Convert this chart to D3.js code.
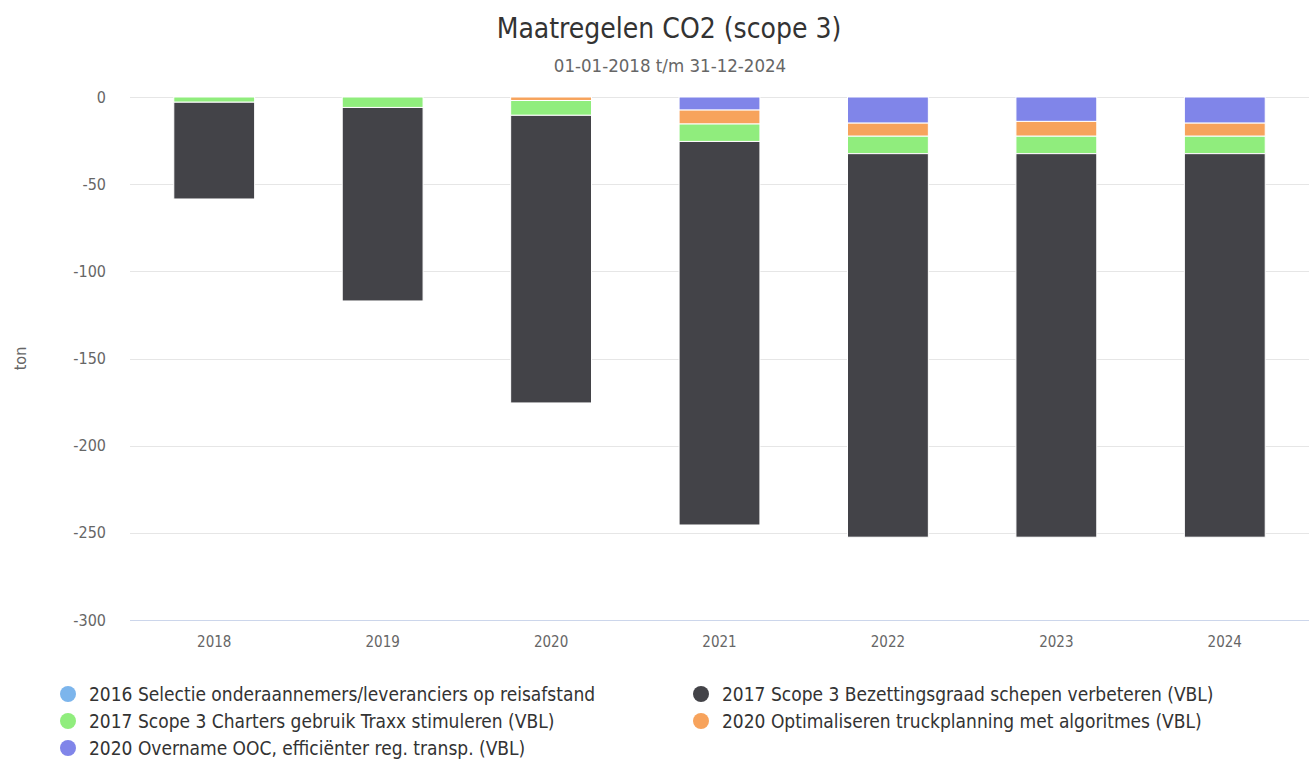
<!DOCTYPE html>
<html>
<head>
<meta charset="utf-8">
<script src="https://d3js.org/d3.v7.min.js"></script>
<style>
  body { margin: 0; background: #fff; }
  svg text { font-family: "DejaVu Sans Condensed", "DejaVu Sans", sans-serif; font-stretch: condensed; }
</style>
</head>
<body>
<div id="chart"></div>
<script>
// data
const years = ["2018", "2019", "2020", "2021", "2022", "2023", "2024"];

const seriesNames = [
    "2016 Selectie onderaannemers/leveranciers op reisafstand",
    "2017 Scope 3 Bezettingsgraad schepen verbeteren (VBL)",
    "2017 Scope 3 Charters gebruik Traxx stimuleren (VBL)",
    "2020 Optimaliseren truckplanning met algoritmes (VBL)",
    "2020 Overname OOC, efficiënter reg. transp. (VBL)"
];
const seriesColors = ["#7cb5ec", "#434348", "#90ed7d", "#f7a35c", "#8085e9"];

const selectie    = [0, 0, 0, 0, 0, 0, 0];
const bezetting   = [-55.5, -111, -165, -220, -220, -220, -220];
const charters    = [-3, -6, -8.5, -10, -10, -10, -10];
const truckplan   = [0, 0, -2, -8, -7.5, -8.5, -7.5];
const overname    = [0, 0, 0, -7.5, -15, -14, -15];

const seriesValues = [selectie, bezetting, charters, truckplan, overname];

const yTicks = [0, -50, -100, -150, -200, -250, -300];

const width = 1309, height = 762;
const margin = {top: 97, right: 0, bottom: 142, left: 130};
const innerW = width - margin.left - margin.right;
const innerH = height - margin.top - margin.bottom;

const svg = d3.select("#chart").append("svg")
    .attr("width", width)
    .attr("height", height);

// title
svg.append("text")
    .attr("x", 669).attr("y", 38)
    .attr("text-anchor", "middle")
    .attr("font-size", "28px")
    .attr("fill", "#333333")
    .text("Maatregelen CO2 (scope 3)");

svg.append("text")
    .attr("x", 670).attr("y", 72)
    .attr("text-anchor", "middle")
    .attr("font-size", "18.5px")
    .attr("fill", "#666666")
    .text("01-01-2018 t/m 31-12-2024");

const g = svg.append("g")
    .attr("transform", "translate(" + margin.left + "," + margin.top + ")");

/// Scales
const x = d3.scaleBand()
    .domain(years)
    .range([0, innerW])
    .paddingInner(0.52)
    .paddingOuter(0.26);

const y = d3.scaleLinear()
    .domain([0, -300])
    .range([0, innerH]);

/// Grid
g.selectAll(".grid")
    .data(yTicks.filter(d => d !== -300))
    .enter()
    .append("line")
    .attr("x1", 0).attr("x2", innerW)
    .attr("y1", d => Math.round(y(d)) + 0.5)
    .attr("y2", d => Math.round(y(d)) + 0.5)
    .attr("stroke", "#e6e6e6")
    .attr("stroke-width", 1);

g.append("line")
    .attr("x1", 0).attr("x2", innerW)
    .attr("y1", Math.round(y(-300)) + 0.5)
    .attr("y2", Math.round(y(-300)) + 0.5)
    .attr("stroke", "#ccd6eb")
    .attr("stroke-width", 1);

/// Y axis labels
const yAxis = g.append("g")
    .attr("transform", "translate(-24,0)")
    .call(d3.axisLeft(y).tickValues(yTicks).tickSize(0).tickPadding(0)
        .tickFormat(d => String(d)));
yAxis.select(".domain").remove();
yAxis.selectAll("text")
    .attr("font-size", "16px")
    .attr("fill", "#666666")
    .attr("font-family", null);

svg.append("text")
    .attr("transform", "translate(26," + (margin.top + innerH / 2) + ") rotate(-90)")
    .attr("text-anchor", "middle")
    .attr("font-size", "16px")
    .attr("fill", "#666666")
    .text("ton");

/// X axis labels
const xAxis = g.append("g")
    .attr("transform", "translate(0," + innerH + ")")
    .call(d3.axisBottom(x).tickSize(0).tickPadding(16));
xAxis.select(".domain").remove();
xAxis.selectAll("text")
    .attr("font-size", "15px")
    .attr("fill", "#666666")
    .attr("font-family", null);

/// Stacks (last series sits nearest zero)
const rows = years.map((yr, i) => {
    const r = {year: yr};
    seriesNames.forEach((s, k) => { r[s] = seriesValues[k][i]; });
    return r;
});

const stackOrder = seriesNames.slice().reverse();
const stacked = d3.stack()
    .keys(stackOrder)
    .offset(d3.stackOffsetDiverging)(rows);

const color = d3.scaleOrdinal().domain(seriesNames).range(seriesColors);

g.selectAll(".serie")
    .data(stacked)
    .enter()
    .append("g")
    .attr("fill", d => color(d.key))
    .selectAll("rect")
    .data(d => d.filter(p => p[1] - p[0] !== 0))
    .enter()
    .append("rect")
    .attr("x", d => x(d.data.year))
    .attr("width", x.bandwidth())
    .attr("y", d => y(Math.max(d[0], d[1])))
    .attr("height", d => Math.abs(y(d[0]) - y(d[1])))
    .attr("stroke", "#ffffff")
    .attr("stroke-width", 1);

/// Legend
const legendCols = [68, 701];
const legendRows = [694, 721, 748];
const legend = svg.append("g");
seriesNames.forEach((s, k) => {
    const cx = legendCols[k % 2];
    const cy = legendRows[Math.floor(k / 2)];
    legend.append("circle")
        .attr("cx", cx).attr("cy", cy).attr("r", 8)
        .attr("fill", seriesColors[k]);
    legend.append("text")
        .attr("x", cx + 21).attr("y", cy + 6.5)
        .attr("font-size", "19px")
        .attr("fill", "#333333")
        .text(s);
});
</script>
</body>
</html>
